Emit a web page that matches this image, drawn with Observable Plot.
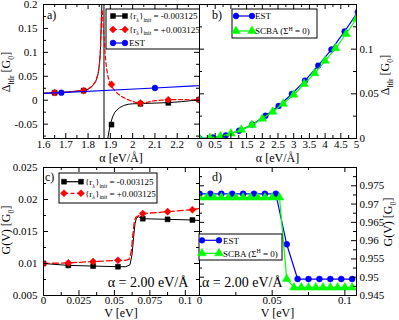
<!DOCTYPE html>
<html><head><meta charset="utf-8">
<script src="https://cdn.jsdelivr.net/npm/d3@7"></script>
<script src="https://cdn.jsdelivr.net/npm/@observablehq/plot@0.6"></script>
<style>
body{margin:0;background:#fff}
#wrap{position:relative;width:399px;height:320px;overflow:hidden;font-family:"Liberation Serif","Times New Roman",serif}
#wrap svg{position:absolute}
</style></head><body><div id="wrap"></div>
<script>
// ---------------- data ----------------
// panel a: markers
const aAlpha = [1.65, 1.78, 1.905, 2.035, 2.16, 2.298];
const aNeg = [0.0155, 0.0200, -0.0510, -0.0075, -0.0055, 0.0010];
const aPos = [0.0160, 0.0200, 0.0330, -0.0060, 0.0010, 0.0010];
// panel a: smooth curves
const aNegCurveAlpha = [1.6, 1.65, 1.7, 1.75, 1.78, 1.8, 1.82, 1.835, 1.845, 1.851, 1.855, 1.858, 1.862, 1.866, 1.871, 1.872, 1.876, 1.885, 1.89, 1.9, 1.91, 1.92, 1.94, 1.96, 1.98, 2.0, 2.035, 2.1, 2.16, 2.22, 2.3];
const aNegCurve = [0.0145, 0.0155, 0.0170, 0.0190, 0.0200, 0.0230, 0.0300, 0.0400, 0.0550, 0.0750, 0.1000, 0.1400, 0.2000, 0.3000, 0.6000, -0.6000, -0.2500, -0.1000, -0.0750, -0.0500, -0.0350, -0.0250, -0.0160, -0.0110, -0.0085, -0.0075, -0.0070, -0.0060, -0.0050, -0.0030, 0.0010];
const aPosCurveAlpha = [1.6, 1.65, 1.7, 1.75, 1.78, 1.8, 1.82, 1.835, 1.845, 1.851, 1.855, 1.858, 1.861, 1.864, 1.868, 1.872, 1.876, 1.882, 1.89, 1.9, 1.91, 1.92, 1.935, 1.95, 1.97, 1.99, 2.01, 2.035, 2.07, 2.1, 2.13, 2.16, 2.2, 2.25, 2.3];
const aPosCurve = [0.0145, 0.0155, 0.0170, 0.0190, 0.0200, 0.0230, 0.0300, 0.0400, 0.0550, 0.0750, 0.1000, 0.1400, 0.1900, 0.1850, 0.1550, 0.1300, 0.1000, 0.0700, 0.0480, 0.0340, 0.0260, 0.0200, 0.0130, 0.0080, 0.0030, -0.0010, -0.0040, -0.0060, -0.0040, -0.0010, 0.0000, 0.0010, 0.0015, 0.0010, 0.0010];
// panel b (EST also used in panel a)
const bAlphaEST = [0, 0.42, 0.84, 1.26, 1.68, 2.10, 2.52, 2.94, 3.36, 3.78, 4.20, 4.62, 5.04];
const bEST = [0, 0.0011, 0.0035, 0.0087, 0.0157, 0.0255, 0.0364, 0.0498, 0.0648, 0.0816, 0.0996, 0.1198, 0.1415];
const bAlphaSCBA = [0, 0.333, 0.667, 1.0, 1.333, 1.667, 2.0, 2.333, 2.667, 3.0, 3.333, 3.667, 4.0, 4.333, 4.667, 5.0];
const bSCBA = [0, 0.0006, 0.0025, 0.0055, 0.0097, 0.0150, 0.0220, 0.0300, 0.0390, 0.0490, 0.0610, 0.0730, 0.0870, 0.1010, 0.1170, 0.1340];
// panel c
const cV = [0, 0.0175, 0.035, 0.0525, 0.07, 0.0875, 0.105];
const cNeg = [0.0100, 0.0097, 0.0096, 0.0095, 0.0170, 0.0169, 0.0168];
const cPos = [0.0100, 0.0101, 0.0103, 0.0105, 0.0178, 0.0181, 0.0184];
const cNegLineV = [0, 0.0175, 0.035, 0.0525, 0.058, 0.061, 0.0625, 0.0635, 0.0645, 0.0655, 0.067, 0.07, 0.0875, 0.105, 0.11];
const cNegLine = [0.0100, 0.0097, 0.0096, 0.0095, 0.0095, 0.0098, 0.0115, 0.0140, 0.0162, 0.0171, 0.0173, 0.0170, 0.0169, 0.0168, 0.0167];
const cPosLineV = [0, 0.0175, 0.035, 0.0525, 0.058, 0.0605, 0.062, 0.063, 0.064, 0.065, 0.07, 0.0875, 0.105, 0.11];
const cPosLine = [0.0100, 0.0101, 0.0103, 0.0105, 0.0105, 0.0107, 0.0120, 0.0145, 0.0165, 0.0172, 0.0178, 0.0181, 0.0184, 0.0186];
// panel d
const dVEST = [0, 0.0075, 0.015, 0.0225, 0.03, 0.0375, 0.045, 0.0525, 0.06, 0.0675, 0.075, 0.0825, 0.09, 0.0975, 0.105];
const dEST = [0.9728, 0.9728, 0.9728, 0.9728, 0.9728, 0.9728, 0.9728, 0.9728, 0.9590, 0.9495, 0.9495, 0.9495, 0.9495, 0.9495, 0.9495];
const dVSCBA = [0, 0.005, 0.01, 0.015, 0.02, 0.025, 0.03, 0.035, 0.04, 0.045, 0.05, 0.055, 0.06, 0.065, 0.07, 0.075, 0.08, 0.085, 0.09, 0.095, 0.1, 0.105];
const dSCBA = [0.9718, 0.9718, 0.9718, 0.9718, 0.9718, 0.9718, 0.9718, 0.9718, 0.9718, 0.9718, 0.9718, 0.9718, 0.9495, 0.9472, 0.9472, 0.9472, 0.9472, 0.9472, 0.9472, 0.9472, 0.9472, 0.9472];
// ticks
const aXMajor = [1.6, 1.7, 1.8, 1.9, 2.0, 2.1, 2.2], aXMinor = [1.65, 1.75, 1.85, 1.95, 2.05, 2.15, 2.25, 2.3];
const aYMajor = [-0.05, 0, 0.05, 0.1, 0.15, 0.2], aYMinor = [-0.075, -0.025, 0.025, 0.075, 0.125, 0.175];
const bXMajor = [0, 0.5, 1, 1.5, 2, 2.5, 3, 3.5, 4, 4.5, 5], bXMinor = [0.25, 0.75, 1.25, 1.75, 2.25, 2.75, 3.25, 3.75, 4.25, 4.75];
const bYMajor = [0, 0.05, 0.1], bYMinor = [0.025, 0.075, 0.125, 0.15];
const cXMajor = [0, 0.025, 0.05, 0.075, 0.1], cXMinor = [0.0125, 0.0375, 0.0625, 0.0875];
const cYMajor = [0.005, 0.01, 0.015, 0.02, 0.025], cYMinor = [0.0075, 0.0125, 0.0175, 0.0225];
const dXMajor = [0, 0.05, 0.1], dXMinor = [0.025, 0.075];
const dYMajor = [0.945, 0.95, 0.955, 0.96, 0.965, 0.97, 0.975], dYMinor = [0.9475, 0.9525, 0.9575, 0.9625, 0.9675, 0.9725, 0.9775];

const FONT = "Liberation Serif";
const BLACK = "#000", RED = "#ff0000", BLUE = "#0000ff", GREEN = "#00ff00";
const fmt = v => String(Math.round(v * 1e6) / 1e6);
const pts = (xs, ys) => xs.map((x, i) => ({x, y: ys[i]}));

function tickMarks(fw, fh, xMaj, xMin, yMaj, yMin, xLab, yLabSide, xdy) {
  const M = 5, m = 3, marks = [];
  for (const [arr, len] of [[xMaj, M], [xMin, m]]) {
    marks.push(Plot.tickX(arr, {x: d => d, insetTop: fh - len, stroke: BLACK}));
    marks.push(Plot.tickX(arr, {x: d => d, insetBottom: fh - len, stroke: BLACK}));
  }
  for (const [arr, len] of [[yMaj, M], [yMin, m]]) {
    marks.push(Plot.tickY(arr, {y: d => d, insetRight: fw - len, stroke: BLACK}));
    marks.push(Plot.tickY(arr, {y: d => d, insetLeft: fw - len, stroke: BLACK}));
  }
  marks.push(Plot.text(xLab, {x: d => d, text: fmt, frameAnchor: "bottom", dy: xdy, lineAnchor: "top", fontSize: 11, fontFamily: FONT, fill: BLACK}));
  if (yLabSide === "left")
    marks.push(Plot.text(yMaj, {y: d => d, text: fmt, frameAnchor: "left", dx: -6, textAnchor: "end", fontSize: 11, fontFamily: FONT, fill: BLACK}));
  else
    marks.push(Plot.text(yMaj, {y: d => d, text: fmt, frameAnchor: "right", dx: 3, textAnchor: "start", fontSize: 11, fontFamily: FONT, fill: BLACK}));
  return marks;
}

function panel(o) {
  const fw = o.width - o.ml - o.mr, fh = o.height - o.mt - o.mb;
  const svg = Plot.plot({
    width: o.width, height: o.height,
    marginLeft: o.ml, marginRight: o.mr, marginTop: o.mt, marginBottom: o.mb,
    x: {domain: o.xd, axis: null}, y: {domain: o.yd, axis: null},
    style: {background: "transparent", fontFamily: FONT, overflow: "visible"},
    marks: [
      ...o.marks,
      ...tickMarks(fw, fh, o.xMaj, o.xMin, o.yMaj, o.yMin, o.xLab || o.xMaj, o.ySide, o.xdy),
      Plot.frame({stroke: BLACK, strokeWidth: 1})
    ]
  });
  svg.style.left = o.left + "px";
  svg.style.top = o.top + "px";
  document.getElementById("wrap").appendChild(svg);
  return svg;
}

const line = (data, color, dash, w) => Plot.line(data, {x: "x", y: "y", stroke: color, strokeWidth: w || 1.2, strokeDasharray: dash, clip: true});
const dots = (data, color, symbol, r) => Plot.dot(data, {x: "x", y: "y", fill: color, stroke: color, strokeWidth: 0.5, symbol, r, clip: true});

// ---------------- panels ----------------
const svgA = panel({left: 0, top: 0, width: 200, height: 166, ml: 43, mr: 1, mt: 4, mb: 28, xdy: 2,
  xd: [1.6, 2.3], yd: [-0.08, 0.2], xMaj: aXMajor, xMin: aXMinor, yMaj: aYMajor, yMin: aYMinor, ySide: "left",
  marks: [
    line(pts(aNegCurveAlpha, aNegCurve), BLACK, null, 1),
    dots(pts(aAlpha, aNeg), BLACK, "square", 2.8),
    line(pts(aPosCurveAlpha, aPosCurve), RED, "4,2.5", 1.2),
    dots(pts(aAlpha, aPos), RED, "diamond2", 3.2),
    line(pts(bAlphaEST, bEST), BLUE, null, 1.2),
    dots(pts(bAlphaEST, bEST), BLUE, "circle", 2.9)
  ]});
const svgC = panel({left: 0, top: 160, width: 200, height: 160, ml: 43, mr: 1, mt: 7, mb: 25, xdy: 0.5,
  xd: [0, 0.11], yd: [0.005, 0.025], xMaj: cXMajor, xMin: cXMinor, yMaj: cYMajor, yMin: cYMinor, ySide: "left",
  marks: [
    line(pts(cNegLineV, cNegLine), BLACK, null, 1),
    dots(pts(cV, cNeg), BLACK, "square", 2.8),
    line(pts(cPosLineV, cPosLine), RED, "6,3", 1.3),
    dots(pts(cV, cPos), RED, "diamond2", 3.2)
  ]});
const svgB = panel({left: 199, top: 0, width: 200, height: 166, ml: 0, mr: 43, mt: 4, mb: 28, xdy: 2,
  xd: [0, 5], yd: [0, 0.15], xMaj: bXMajor, xMin: bXMinor, yMaj: bYMajor, yMin: bYMinor, ySide: "right",
  marks: [
    line(pts(bAlphaEST, bEST), BLUE, null, 1.2),
    dots(pts(bAlphaEST, bEST), BLUE, "circle", 2.9),
    line(pts(bAlphaSCBA, bSCBA), GREEN, null, 1.2),
    dots(pts(bAlphaSCBA, bSCBA), GREEN, "triangle", 3.2)
  ]});
const svgD = panel({left: 199, top: 160, width: 200, height: 160, ml: 0, mr: 43, mt: 7, mb: 25, xdy: 0.5,
  xd: [0, 0.108], yd: [0.945, 0.98], xMaj: dXMajor, xMin: dXMinor, yMaj: dYMajor, yMin: dYMinor, ySide: "right",
  marks: [
    line(pts(dVEST, dEST), BLUE, null, 1.2),
    dots(pts(dVEST, dEST), BLUE, "circle", 3),
    line(pts(dVSCBA, dSCBA), GREEN, null, 1.2),
    dots(pts(dVSCBA, dSCBA), GREEN, "triangle", 3.2)
  ]});

// ---------------- text helpers ----------------
function rich(sel, parts, size) {
  let shift = 0;
  for (const [t, k] of parts) {
    const target = k === "sub" ? size * 0.3 : k === "sup" ? -size * 0.4 : 0;
    sel.append("tspan").attr("dy", target - shift).attr("font-size", k === "n" ? size : size * 0.65).text(t);
    shift = target;
  }
  return sel;
}
function label(svg, x, y, parts, size, rot, anchor) {
  const t = d3.select(svg).append("text").attr("font-family", FONT).attr("fill", BLACK)
    .attr("text-anchor", anchor || "middle")
    .attr("transform", `translate(${x},${y})` + (rot ? ` rotate(${rot})` : ""));
  rich(t, parts, size);
}
const symbolType = {square: d3.symbolSquare, diamond2: d3.symbolDiamond2, circle: d3.symbolCircle, triangle: d3.symbolTriangle};
function legend(svg, o) {
  const g = d3.select(svg).append("g");
  if (o.clip) {
    const id = "clip" + Math.random().toString(36).slice(2);
    g.append("clipPath").attr("id", id).append("rect").attr("x", o.clip[0]).attr("y", o.clip[1]).attr("width", o.clip[2]).attr("height", o.clip[3]);
    g.attr("clip-path", `url(#${id})`);
  }
  g.append("rect").attr("x", o.x).attr("y", o.y).attr("width", o.w).attr("height", o.h)
    .attr("fill", "#fff").attr("stroke", BLACK).attr("stroke-width", 1);
  o.items.forEach((it, i) => {
    const y = o.rows[i];
    g.append("line").attr("x1", o.l0).attr("x2", o.l1).attr("y1", y).attr("y2", y)
      .attr("stroke", it.color).attr("stroke-width", 1.2).attr("stroke-dasharray", it.dash || null);
    for (const x of [o.l0, o.l1])
      g.append("path").attr("d", d3.symbol(symbolType[it.symbol], Math.PI * it.r * it.r)())
        .attr("transform", `translate(${x},${y})`).attr("fill", it.color).attr("stroke", it.color).attr("stroke-width", 0.5);
    const t = g.append("text").attr("x", o.tx).attr("y", y + 3.2).attr("text-anchor", "start")
      .attr("font-family", FONT).attr("fill", BLACK);
    rich(t, it.label, 9);
  });
}
const negLabel = [["{r", "n"], ["λ", "sub"], ["}", "n"], ["init", "sub"], [" = -0.003125", "n"]];
const posLabel = [["{r", "n"], ["λ", "sub"], ["}", "n"], ["init", "sub"], [" = +0.003125", "n"]];
const scbaLabel = [["SCBA (Σ", "n"], ["H", "sup"], [" = 0)", "n"]];
const itNeg = {color: BLACK, symbol: "square", r: 2.8, label: negLabel};
const itPos = {color: RED, symbol: "diamond2", r: 3.2, dash: "4,2.5", label: posLabel};
const itEST = {color: BLUE, symbol: "circle", r: 2.9, label: [["EST", "n"]]};
const itSCBA = {color: GREEN, symbol: "triangle", r: 3.2, label: scbaLabel};

// panel a
legend(svgA, {x: 106, y: 9, w: 96, h: 40, l0: 113, l1: 125, tx: 129, rows: [16, 29.5, 43], items: [itNeg, itPos, itEST], clip: [0, 0, 200, 166]});
label(svgA, 47, 19, [["a)", "n"]], 12, 0, "start");
label(svgA, 121, 162, [["α [eV/Å]", "n"]], 12);
label(svgA, 10, 72, [["Δ", "n"], ["ltlr", "sub"], [" [G", "n"], ["0", "sub"], ["]", "n"]], 12, -90);
// panel b
legend(svgB, {x: 33, y: 9, w: 85, h: 29, l0: 37, l1: 53, tx: 56, rows: [16, 31], items: [itEST, itSCBA]});
label(svgB, 13, 19, [["b)", "n"]], 12, 0, "start");
label(svgB, 78.5, 162, [["α [eV/Å]", "n"]], 12);
label(svgB, 190, 75, [["Δ", "n"], ["ltlr", "sub"], [" [G", "n"], ["0", "sub"], ["]", "n"]], 12, -90);
// panel c
legend(svgC, {x: 59, y: 13, w: 98, h: 30, l0: 64, l1: 81, tx: 85, rows: [21.7, 33.3], items: [itNeg, itPos]});
label(svgC, 45, 21, [["c)", "n"]], 12, 0, "start");
label(svgC, 121, 157, [["V [eV]", "n"]], 12);
label(svgC, 10, 70, [["G(V) [G", "n"], ["0", "sub"], ["]", "n"]], 12, -90);
label(svgC, 148, 127, [["α = 2.00 eV/Å", "n"]], 14);
// panel d
legend(svgD, {x: 0, y: 74, w: 83, h: 26, l0: 3, l1: 20, tx: 24, rows: [80.3, 93.3], items: [itEST, itSCBA]});
label(svgD, 13, 21, [["d)", "n"]], 12, 0, "start");
label(svgD, 78.5, 157, [["V [eV]", "n"]], 12);
label(svgD, 193, 62, [["G(V) [G", "n"], ["0", "sub"], ["]", "n"]], 12, -90);
label(svgD, 3, 127, [["α = 2.00 eV/Å", "n"]], 14, 0, "start");
</script></body></html>
